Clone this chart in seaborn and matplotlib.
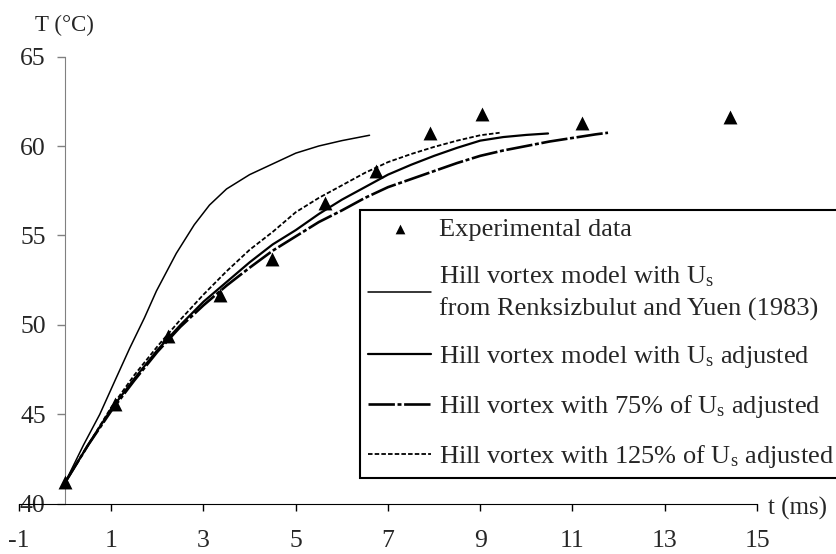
import numpy as np
import pandas as pd
import seaborn as sns
import matplotlib.pyplot as plt

# experimental points
t_exp = [0.0, 1.09, 2.23, 3.35, 4.49, 5.63, 6.73, 7.9, 9.04, 11.2, 14.41]
T_exp = [41.2, 45.6, 49.4, 51.7, 53.7, 56.8, 58.6, 60.75, 61.8, 61.3, 61.6]

# Hill vortex, U_s from Renksizbulut and Yuen (1983)
t_ry = [0, 0.4, 0.75, 1.1, 1.4, 1.72, 1.98, 2.41, 2.8, 3.13, 3.5, 4.0, 4.5, 5.0, 5.5, 6.0, 6.6]
T_ry = [41.2, 43.3, 45.0, 47.0, 48.7, 50.4, 51.9, 54.0, 55.6, 56.7, 57.6, 58.4, 59.0, 59.6, 60.0, 60.3, 60.6]

# Hill vortex, U_s adjusted
t_adj = [0, 0.5, 1, 1.5, 2, 2.5, 3, 3.5, 4, 4.5, 5, 5.5, 6, 6.5, 7, 7.5, 8, 8.5, 9, 9.5, 10, 10.47]
T_adj = [41.2, 43.3, 45.3, 47.0, 48.6, 50.0, 51.3, 52.4, 53.5, 54.5, 55.3, 56.2, 57.0, 57.7, 58.4,
         58.95, 59.45, 59.9, 60.3, 60.5, 60.62, 60.7]

# 75% of U_s adjusted
t_75 = [0, 0.5, 1, 1.5, 2, 2.5, 3, 3.5, 4, 4.5, 5, 5.5, 6, 6.5, 7, 7.5, 8, 8.5, 9, 9.5, 10, 10.5,
        11, 11.5, 11.77]
T_75 = [41.2, 43.3, 45.2, 46.9, 48.5, 49.9, 51.1, 52.2, 53.2, 54.15, 54.95, 55.75, 56.4, 57.1, 57.7,
        58.15, 58.6, 59.05, 59.45, 59.75, 60.0, 60.25, 60.45, 60.65, 60.74]

# 125% of U_s adjusted
t_125 = [0, 0.5, 1, 1.5, 2, 2.5, 3, 3.5, 4, 4.5, 5, 5.5, 6, 6.5, 7, 7.5, 8, 8.5, 9, 9.42]
T_125 = [41.2, 43.3, 45.4, 47.2, 48.8, 50.3, 51.7, 53.0, 54.2, 55.2, 56.3, 57.1, 57.8, 58.5, 59.1,
         59.55, 59.95, 60.3, 60.6, 60.74]

x_ticks = [-1, 1, 3, 5, 7, 9, 11, 13, 15]
y_ticks = [40, 45, 50, 55, 60, 65]

sns.set_style("white")
plt.rcParams['font.family'] = ['Liberation Serif', 'DejaVu Serif']
plt.rcParams['mathtext.fontset'] = 'custom'
plt.rcParams['mathtext.rm'] = 'Liberation Serif'
plt.rcParams['mathtext.it'] = 'Liberation Serif'
plt.rcParams['axes.unicode_minus'] = False

fig, ax = plt.subplots(figsize=(8.36, 5.54), dpi=100)
fig.subplots_adjust(left=0.0227, right=0.9055, bottom=0.0903, top=0.898)

sns.lineplot(x=t_ry, y=T_ry, ax=ax, color='black', lw=1.1,
             label='Hill vortex model with U$_\\mathrm{s}$\nfrom Renksizbulut and Yuen (1983)')
sns.lineplot(x=t_adj, y=T_adj, ax=ax, color='black', lw=1.6,
             label='Hill vortex model with U$_\\mathrm{s}$ adjusted')
sns.lineplot(x=t_75, y=T_75, ax=ax, color='black', lw=1.9, linestyle=(0, (10, 1, 1.5, 1)),
             label='Hill vortex with 75% of U$_\\mathrm{s}$ adjusted')
sns.lineplot(x=t_125, y=T_125, ax=ax, color='black', lw=1.3, linestyle=(0, (2.5, 1.2)),
             label='Hill vortex with 125% of U$_\\mathrm{s}$ adjusted')
sns.scatterplot(x=t_exp, y=T_exp, ax=ax, marker='^', color='black', s=100, edgecolor='black',
                linewidth=0, label='Experimental data', zorder=5)

ax.set_xlim(-1, 15)
ax.set_ylim(40, 65)
ax.set_xticks(x_ticks)
ax.set_yticks(y_ticks)
ax.spines['left'].set_position(('data', 0))
ax.spines['left'].set_color('#808080')
ax.spines['right'].set_visible(False)
ax.spines['top'].set_visible(False)
ax.spines['bottom'].set_color('black')
ax.tick_params(axis='x', direction='out', length=5, width=1, color='black', pad=14, labelsize=18.5,
               bottom=True)
ax.tick_params(axis='y', direction='out', length=6, width=1, color='#808080', pad=8, labelsize=18.5,
               left=True)
ax.set_xlabel('')
ax.set_ylabel('')

fig.text(64 / 836, 1 - 25 / 554, 'T (°C)', fontsize=16.5, ha='center', va='center')
fig.text(768 / 836, 1 - 508 / 554, 't (ms)', fontsize=18, ha='left', va='center')

handles, labels = ax.get_legend_handles_labels()
order = [4, 0, 1, 2, 3]
leg = ax.legend([handles[i] for i in order], [labels[i] for i in order],
                loc='upper left', bbox_to_anchor=(360 / 836, 1 - 210 / 554),
                bbox_transform=fig.transFigure, borderaxespad=0, fontsize=19,
                handlelength=2.4, handletextpad=0.3, labelspacing=0.88, borderpad=0.3,
                fancybox=False, framealpha=1, edgecolor='black', markerscale=0.7)
leg.get_frame().set_linewidth(1.5)
for txt in leg.get_texts():
    txt.set_linespacing(1.45)

fig.savefig('out.png', dpi=100)
